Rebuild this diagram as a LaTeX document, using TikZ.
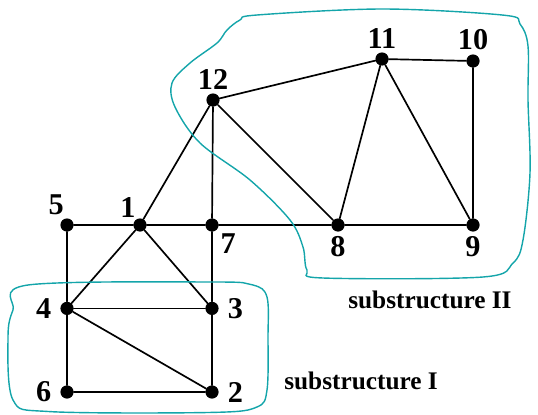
\documentclass[tikz,border=0pt]{standalone}
\usepackage{fontspec}
\setmainfont{Liberation Serif}
\usetikzlibrary{positioning}
\definecolor{blobcyan}{RGB}{20,165,170}

\begin{document}
\begin{tikzpicture}[x=1cm,y=1cm]
\tikzset{
  joint/.style={circle,fill=black,draw=none,minimum size=3.3mm,inner sep=0pt},
  jointlabel/.style={font=\fontsize{21.5}{21.5}\selectfont\bfseries,inner sep=1pt},
  member/.style={draw=black,line width=1.2pt,line cap=round},
  blob/.style={draw=blobcyan,line width=1pt},
  subtext/.style={font=\fontsize{18}{18}\selectfont\bfseries,inner sep=0pt}
}
\useasboundingbox (0,0) rectangle (13.45,10.35);
\node[joint] (n_1) at (3.50,4.725) {};
\node[joint] (n_2) at (5.30,0.55) {};
\node[joint] (n_3) at (5.30,2.64) {};
\node[joint] (n_4) at (1.675,2.64) {};
\node[joint] (n_5) at (1.675,4.725) {};
\node[joint] (n_6) at (1.675,0.55) {};
\node[joint] (n_7) at (5.30,4.725) {};
\node[joint] (n_8) at (8.45,4.725) {};
\node[joint] (n_9) at (11.825,4.725) {};
\node[joint] (n_10) at (11.825,8.825) {};
\node[joint] (n_11) at (9.55,8.875) {};
\node[joint] (n_12) at (5.325,7.85) {};
% joint numbers
\node[jointlabel,above left=0.02cm and -0.05cm of n_1] (t_1) {1};
\node[jointlabel,right=0.18cm of n_2] (t_2) {2};
\node[jointlabel,right=0.18cm of n_3] (t_3) {3};
\node[jointlabel,left=0.18cm of n_4] (t_4) {4};
\node[jointlabel,above left=0.08cm and -0.08cm of n_5] (t_5) {5};
\node[jointlabel,left=0.18cm of n_6] (t_6) {6};
\node[jointlabel,below right=0.05cm and 0.05cm of n_7] (t_7) {7};
\node[jointlabel,below=0.08cm of n_8] (t_8) {8};
\node[jointlabel,below=0.08cm of n_9] (t_9) {9};
\node[jointlabel,above=0.06cm of n_10] (t_10) {10};
\node[jointlabel,above=0.06cm of n_11] (t_11) {11};
\node[jointlabel,above=0.06cm of n_12] (t_12) {12};
% members
\draw[member] (n_5) -- (n_1);
\draw[member] (n_1) -- (n_7);
\draw[member] (n_7) -- (n_8);
\draw[member] (n_8) -- (n_9);
\draw[member] (n_5) -- (n_4);
\draw[member] (n_4) -- (n_6);
\draw[member] (n_6) -- (n_2);
\draw[member] (n_2) -- (n_3);
\draw[member] (n_3) -- (n_7);
\draw[member] (n_4) -- (n_3);
\draw[member] (n_4) -- (n_2);
\draw[member] (n_1) -- (n_4);
\draw[member] (n_1) -- (n_3);
\draw[member] (n_1) -- (n_12);
\draw[member] (n_12) -- (n_7);
\draw[member] (n_12) -- (n_8);
\draw[member] (n_12) -- (n_11);
\draw[member] (n_11) -- (n_8);
\draw[member] (n_11) -- (n_9);
\draw[member] (n_11) -- (n_10);
\draw[member] (n_10) -- (n_9);
% substructures
\draw[blob] plot[smooth cycle,tension=0.55] coordinates {
  (6.00,9.85) (6.425,9.975) (9.575,10.125) (12.6,9.97) (13.0,9.75)
  (13.2,9.2) (13.2,7.85) (13.25,6.025) (13.075,4.35) (12.825,3.775) (12.075,3.425)
  (8.075,3.4) (7.675,3.6) (7.575,4.175) (7.25,4.85) (6.25,5.85)
  (5.0,6.775) (4.375,7.675) (4.3,8.275) (4.75,8.775) (5.425,9.275) (5.675,9.6)};
\draw[blob] plot[smooth cycle,tension=0.55] coordinates {
  (0.7,3.225) (5.325,3.3) (6.325,3.225) (6.675,2.925) (6.7,1.925)
  (6.675,0.6) (6.425,0.175) (5.325,0.04) (1.25,0.06) (0.325,0.35)
  (0.2,1.925) (0.325,2.6)};
\node[subtext,anchor=west] (s_2) at (8.70,2.85) {substructure II};
\node[subtext,anchor=west] (s_1) at (7.10,0.82) {substructure I};
\end{tikzpicture}
\end{document}
